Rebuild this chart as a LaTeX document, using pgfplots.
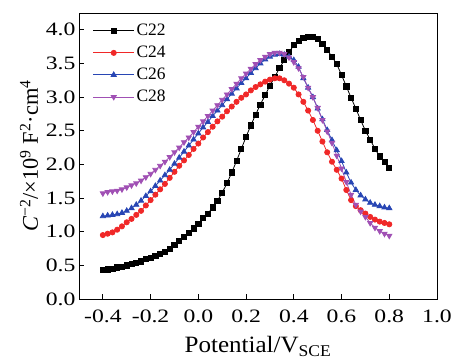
\documentclass[border=0pt]{standalone}
\usepackage{fontspec}
\setmainfont{Liberation Serif}
\newfontfamily\tickfont{Liberation Serif}[FakeStretch=1.25]
\newfontfamily\xlabfont{Liberation Serif}[FakeStretch=1.07]
\usepackage{pgfplots}
\usepackage{pgfplotstable}
\pgfplotsset{compat=1.18}
\definecolor{cred}{RGB}{240,40,40}
\definecolor{cblue}{RGB}{40,70,180}
\definecolor{cpurple}{RGB}{160,80,180}
\pgfplotstableread{
x c22 c24 c26 c28
-0.40 0.43 0.95 1.23 1.57
-0.38 0.44 0.97 1.24 1.59
-0.36 0.45 0.99 1.25 1.60
-0.34 0.47 1.03 1.26 1.61
-0.32 0.48 1.08 1.28 1.63
-0.30 0.50 1.14 1.31 1.66
-0.28 0.52 1.19 1.35 1.69
-0.26 0.54 1.25 1.40 1.72
-0.24 0.56 1.31 1.46 1.76
-0.22 0.59 1.39 1.53 1.81
-0.20 0.61 1.47 1.60 1.86
-0.18 0.64 1.55 1.68 1.92
-0.16 0.67 1.63 1.76 1.98
-0.14 0.70 1.71 1.84 2.04
-0.12 0.75 1.80 1.92 2.11
-0.10 0.80 1.89 2.01 2.18
-0.08 0.86 1.98 2.10 2.25
-0.06 0.92 2.06 2.19 2.33
-0.04 0.98 2.14 2.28 2.40
-0.02 1.05 2.23 2.37 2.48
0.00 1.12 2.31 2.46 2.56
0.02 1.20 2.40 2.55 2.64
0.04 1.27 2.48 2.63 2.72
0.06 1.36 2.56 2.72 2.80
0.08 1.46 2.64 2.80 2.88
0.10 1.58 2.71 2.88 2.96
0.12 1.72 2.79 2.97 3.04
0.14 1.88 2.86 3.05 3.12
0.16 2.05 2.93 3.13 3.20
0.18 2.23 2.99 3.21 3.28
0.20 2.41 3.04 3.28 3.35
0.22 2.58 3.10 3.36 3.42
0.24 2.74 3.15 3.43 3.49
0.26 2.89 3.19 3.50 3.55
0.28 3.03 3.23 3.56 3.60
0.30 3.17 3.26 3.60 3.64
0.32 3.30 3.28 3.63 3.66
0.34 3.43 3.28 3.64 3.66
0.36 3.55 3.25 3.63 3.64
0.38 3.67 3.20 3.60 3.59
0.40 3.77 3.14 3.55 3.52
0.42 3.84 3.04 3.45 3.43
0.44 3.88 2.93 3.28 3.30
0.46 3.90 2.80 3.14 3.14
0.48 3.89 2.66 3.00 3.00
0.50 3.86 2.50 2.83 2.84
0.52 3.79 2.34 2.67 2.66
0.54 3.70 2.18 2.51 2.49
0.56 3.60 2.04 2.36 2.32
0.58 3.49 1.92 2.21 2.13
0.60 3.33 1.79 2.05 1.94
0.62 3.16 1.62 1.88 1.74
0.64 2.99 1.47 1.73 1.55
0.66 2.83 1.38 1.62 1.40
0.68 2.66 1.32 1.54 1.30
0.70 2.50 1.27 1.48 1.22
0.72 2.37 1.22 1.43 1.13
0.74 2.23 1.18 1.40 1.06
0.76 2.12 1.15 1.38 1.01
0.78 2.04 1.13 1.36 0.97
0.80 1.95 1.11 1.35 0.94
}\datatab
\begin{document}
\begin{tikzpicture}
\begin{axis}[
  scale only axis,
  width=358bp, height=286bp,
  xmin=-0.5, xmax=1.0, ymin=0, ymax=4.25,
  xtick={-0.4,-0.2,0,0.2,0.4,0.6,0.8,1.0},
  ytick={0,0.5,1,1.5,2,2.5,3,3.5,4},
  tick align=inside, xtick pos=bottom, ytick pos=left,
  major tick length=5bp,
  axis line style={line width=0.9pt},
  tick style={line width=0.8pt, black},
  /pgf/number format/.cd, assume math mode=true, fixed, fixed zerofill, precision=1,
  /pgfplots/.cd,
  tick label style={font=\tickfont\fontsize{19}{21}\selectfont},
  xticklabel style={yshift=-7bp},
  xlabel={Potential/V\textsubscript{SCE}},
  ylabel={\textit{C}\textsuperscript{−2}/×10\textsuperscript{9} F\textsuperscript{2}·cm\textsuperscript{4}},
  xlabel style={font=\xlabfont\fontsize{23.5}{25}\selectfont, yshift=-7bp},
  ylabel style={font=\fontsize{22.5}{24}\selectfont, yshift=1bp},
  legend style={at={(0.03,0.975)}, anchor=north west, draw=none, fill=none,
    font=\fontsize{17.5}{19}\selectfont, row sep=5bp},
  legend cell align=left,
  legend image code/.code={\draw[mark repeat=2,mark phase=2] plot coordinates {(0cm,0cm) (0.72cm,0cm) (1.44cm,0cm)};},
  every axis plot/.append style={line width=0.8pt, mark size=2.6pt},
]
\addplot[black, mark=square*] table[x=x,y=c22] {\datatab};
\addlegendentry{C22}
\addplot[cred, mark=*, mark options={fill=cred}] table[x=x,y=c24] {\datatab};
\addlegendentry{C24}
\addplot[cblue, mark=triangle*, mark size=3pt] table[x=x,y=c26] {\datatab};
\addlegendentry{C26}
\addplot[cpurple, mark=triangle*, mark options={rotate=180}, mark size=3pt] table[x=x,y=c28] {\datatab};
\addlegendentry{C28}
\end{axis}
\pgfresetboundingbox
\path[use as bounding box] ([shift={(-79bp,-64bp)}]current axis.south west) rectangle ([shift={(17bp,13bp)}]current axis.north east);
\end{tikzpicture}
\end{document}
